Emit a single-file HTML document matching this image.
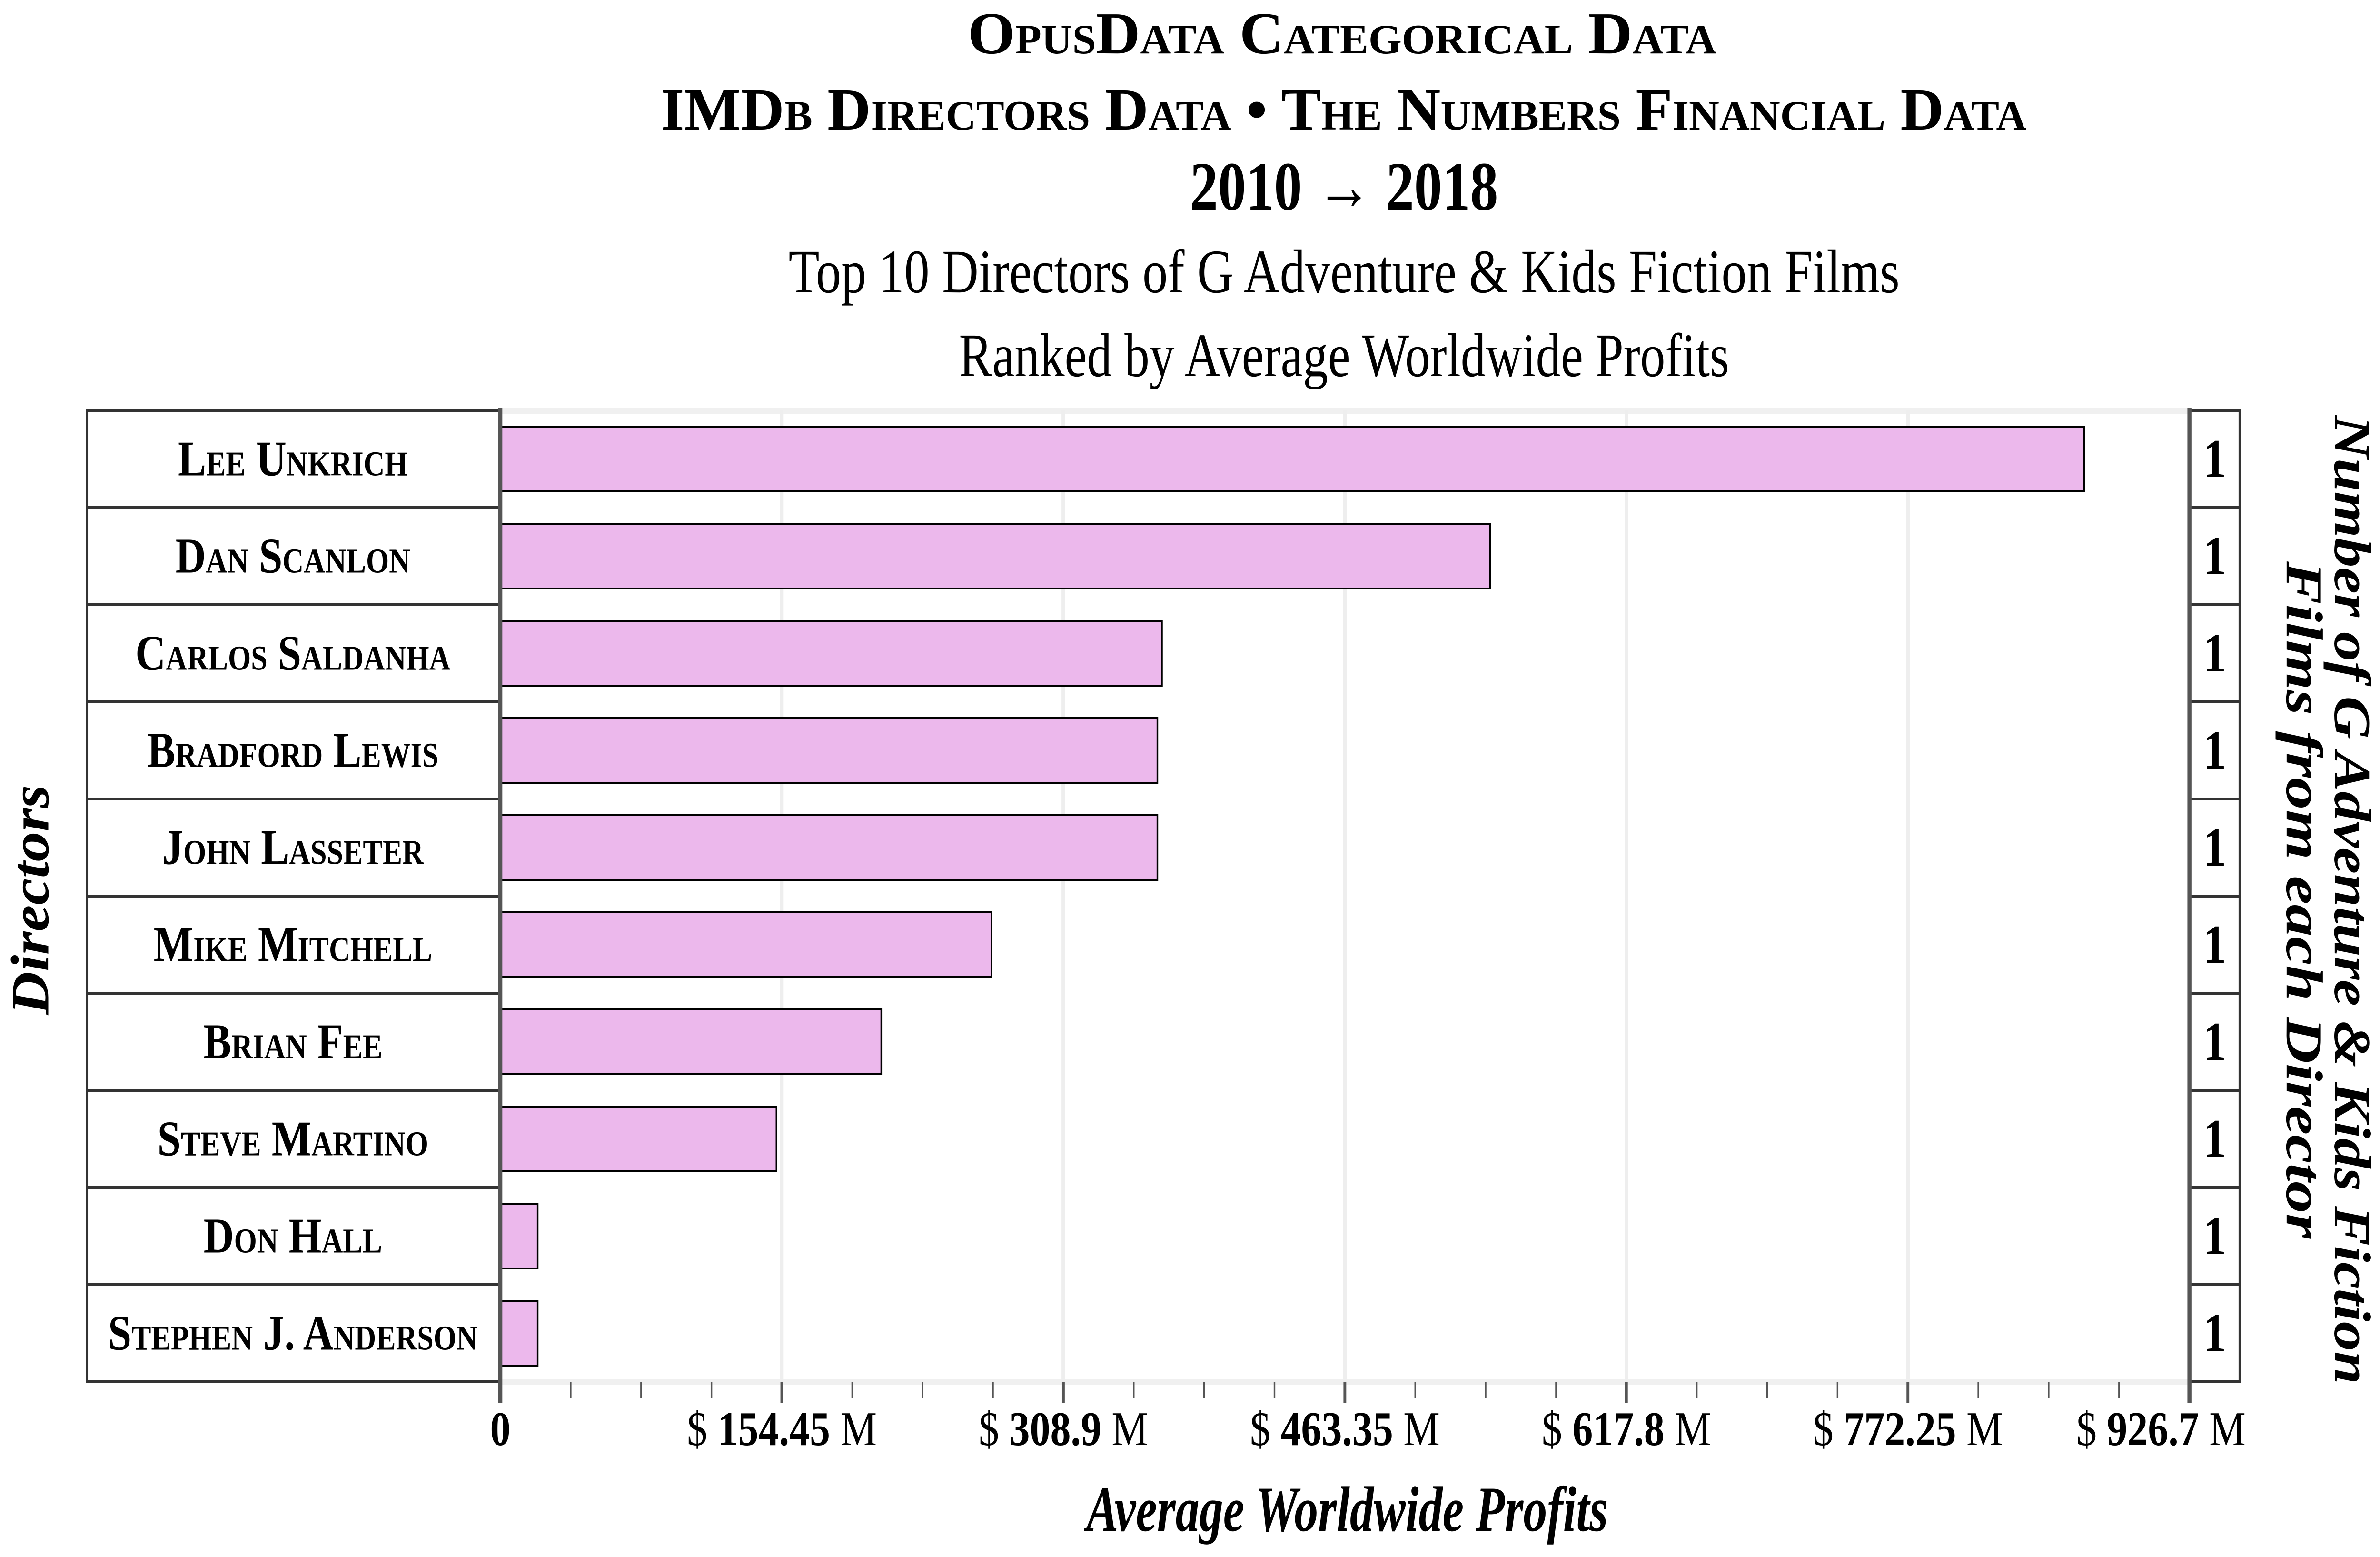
<!DOCTYPE html>
<html><head><meta charset="utf-8"><style>
html,body{margin:0;padding:0;background:#fff;width:100%;height:100%;overflow:hidden}
svg{display:block;width:100vw;height:100vh}
text{font-family:"Liberation Serif",serif}
</style></head><body>
<svg id="chart" viewBox="0 0 5932 3270" preserveAspectRatio="none" xmlns="http://www.w3.org/2000/svg" overflow="hidden">
<g text-anchor="middle" font-weight="bold">
<text x="3345" y="112" font-size="125" font-variant="small-caps" textLength="1866" lengthAdjust="spacingAndGlyphs">OpusData Categorical Data</text>
<text x="3349" y="272" font-size="125" font-variant="small-caps" textLength="3404" lengthAdjust="spacingAndGlyphs">IMDb Directors Data • The Numbers Financial Data</text>
<text x="3350" y="440" font-size="145" textLength="768" lengthAdjust="spacingAndGlyphs">2010 → 2018</text>
</g>
<text x="3350" y="614" font-size="130" text-anchor="middle" textLength="2769" lengthAdjust="spacingAndGlyphs">Top 10 Directors of G Adventure &amp; Kids Fiction Films</text>
<text x="3350" y="790" font-size="130" text-anchor="middle" textLength="1920" lengthAdjust="spacingAndGlyphs">Ranked by Average Worldwide Profits</text>
<g id="grid"></g>
<g id="bars"></g>
<g id="left"></g>
<g id="right"></g>
<g id="xaxis"></g>
<text x="3358" y="3215" font-size="135" font-weight="bold" font-style="italic" text-anchor="middle" textLength="1300" lengthAdjust="spacingAndGlyphs">Average Worldwide Profits</text>
<text transform="translate(76,1890) rotate(-90)" font-size="135" font-weight="bold" font-style="italic" text-anchor="middle" dominant-baseline="central" textLength="483" lengthAdjust="spacingAndGlyphs">Directors</text>
<text transform="translate(5862,1890) rotate(90)" font-size="130" font-weight="bold" font-style="italic" text-anchor="middle" dominant-baseline="central" textLength="2035" lengthAdjust="spacingAndGlyphs">Number of G Adventure &amp; Kids Fiction</text>
<text transform="translate(5742,1890) rotate(90)" font-size="130" font-weight="bold" font-style="italic" text-anchor="middle" dominant-baseline="central" textLength="1422" lengthAdjust="spacingAndGlyphs">Films from each Director</text>
</svg>
<script>
const directors = ["Lee Unkrich","Dan Scanlon","Carlos Saldanha","Bradford Lewis","John Lasseter","Mike Mitchell","Brian Fee","Steve Martino","Don Hall","Stephen J. Anderson"];
const profits = [869, 543, 363, 360.5, 360.5, 269.5, 209, 151.5, 20.5, 20.5];
const filmCounts = [1,1,1,1,1,1,1,1,1,1];
const majorTicks = [0, 154.45, 308.9, 463.35, 617.8, 772.25, 926.7];
const tickLabels = ["0","154.45","308.9","463.35","617.8","772.25","926.7"];

const NS = "http://www.w3.org/2000/svg";
const X0 = 1247, X1 = 5457, TOP = 862, ROW = 204;
const BOT = TOP + ROW * directors.length;
const xMax = majorTicks[majorTicks.length - 1];
const xs = v => X0 + (v / xMax) * (X1 - X0);
const yRow = i => TOP + i * ROW;
function mk(tag, attrs, parent) {
  const e = document.createElementNS(NS, tag);
  for (const k in attrs) e.setAttribute(k, attrs[k]);
  parent.appendChild(e);
  return e;
}
const grid = document.getElementById('grid');
const bars = document.getElementById('bars');
const left = document.getElementById('left');
const right = document.getElementById('right');
const xaxis = document.getElementById('xaxis');

let b1 = mk('rect', {x: X0, y: TOP - 5, width: X1 - X0, height: 12, fill: '#f0f0f0'}, grid);


let b2 = mk('rect', {x: X0, y: BOT - 5, width: X1 - X0, height: 12, fill: '#f0f0f0'}, grid);



majorTicks.forEach((t, i) => {
  if (i > 0 && i < majorTicks.length - 1) {
    const g = mk('line', {x1: xs(t), x2: xs(t), y1: TOP, y2: BOT, stroke: '#eeeeee', 'stroke-width': 9}, grid);
    
    
  }
});

directors.forEach((d, i) => {
  const y = yRow(i);
  const r = mk('rect', {x: X0, y: y + 34, width: xs(profits[i]) - X0, height: 136, fill: '#ecb8ec', stroke: '#000', 'stroke-width': 4}, bars);
  
  

  const lt = mk('text', {x: 730, y: y + ROW / 2, 'font-size': 105, 'font-weight': 'bold', 'font-variant': 'small-caps', 'text-anchor': 'middle', 'dominant-baseline': 'central'}, left);
  lt.textContent = d;
  
  

  const ct = mk('text', {x: 5520, y: y + ROW / 2, 'font-size': 115, 'font-weight': 'bold', 'text-anchor': 'middle', 'dominant-baseline': 'central'}, right);
  ct.textContent = String(filmCounts[i]);
  
  
});

for (let i = 0; i <= directors.length; i++) {
  const l = mk('line', {x1: 217, x2: X0, y1: yRow(i), y2: yRow(i), stroke: '#333', 'stroke-width': 6}, left);
  
  
  const l2 = mk('line', {x1: X1, x2: 5582, y1: yRow(i), y2: yRow(i), stroke: '#333', 'stroke-width': 6}, right);
  
  
}
let lb = mk('line', {x1: 217, x2: 217, y1: TOP - 3, y2: BOT + 3, stroke: '#333', 'stroke-width': 5}, left);


let rb = mk('line', {x1: 5582, x2: 5582, y1: TOP - 3, y2: BOT + 3, stroke: '#333', 'stroke-width': 5}, right);


let ya = mk('line', {x1: X0, x2: X0, y1: TOP - 5, y2: BOT + 45, stroke: '#555', 'stroke-width': 10}, xaxis);


let ra = mk('line', {x1: X1, x2: X1, y1: TOP - 5, y2: BOT + 45, stroke: '#555', 'stroke-width': 10}, xaxis);



const minorStep = majorTicks[1] / 4;
for (let k = 0; k <= 24; k++) {
  const v = k * minorStep;
  const major = k % 4 === 0;
  const t = mk('line', {x1: xs(v), x2: xs(v), y1: BOT, y2: BOT + (major ? 45 : 35), stroke: '#555', 'stroke-width': major ? 7 : 4}, xaxis);
  
  
}
majorTicks.forEach((t, i) => {
  const last = i === majorTicks.length - 1;
  const tx = mk('text', {x: last ? xs(t) + 140 : xs(t), y: 3035, 'font-size': 102, 'text-anchor': last ? 'end' : 'middle'}, xaxis);
  
  
  if (i === 0) { tx.textContent = tickLabels[i]; tx.setAttribute('font-weight', 'bold'); }
  else {
    const s1 = mk('tspan', {}, tx); s1.textContent = '$ ';
    const s2 = mk('tspan', {'font-weight': 'bold'}, tx); s2.textContent = tickLabels[i];
    const s3 = mk('tspan', {}, tx); s3.textContent = ' M';
  }
});
</script>
</body></html>
